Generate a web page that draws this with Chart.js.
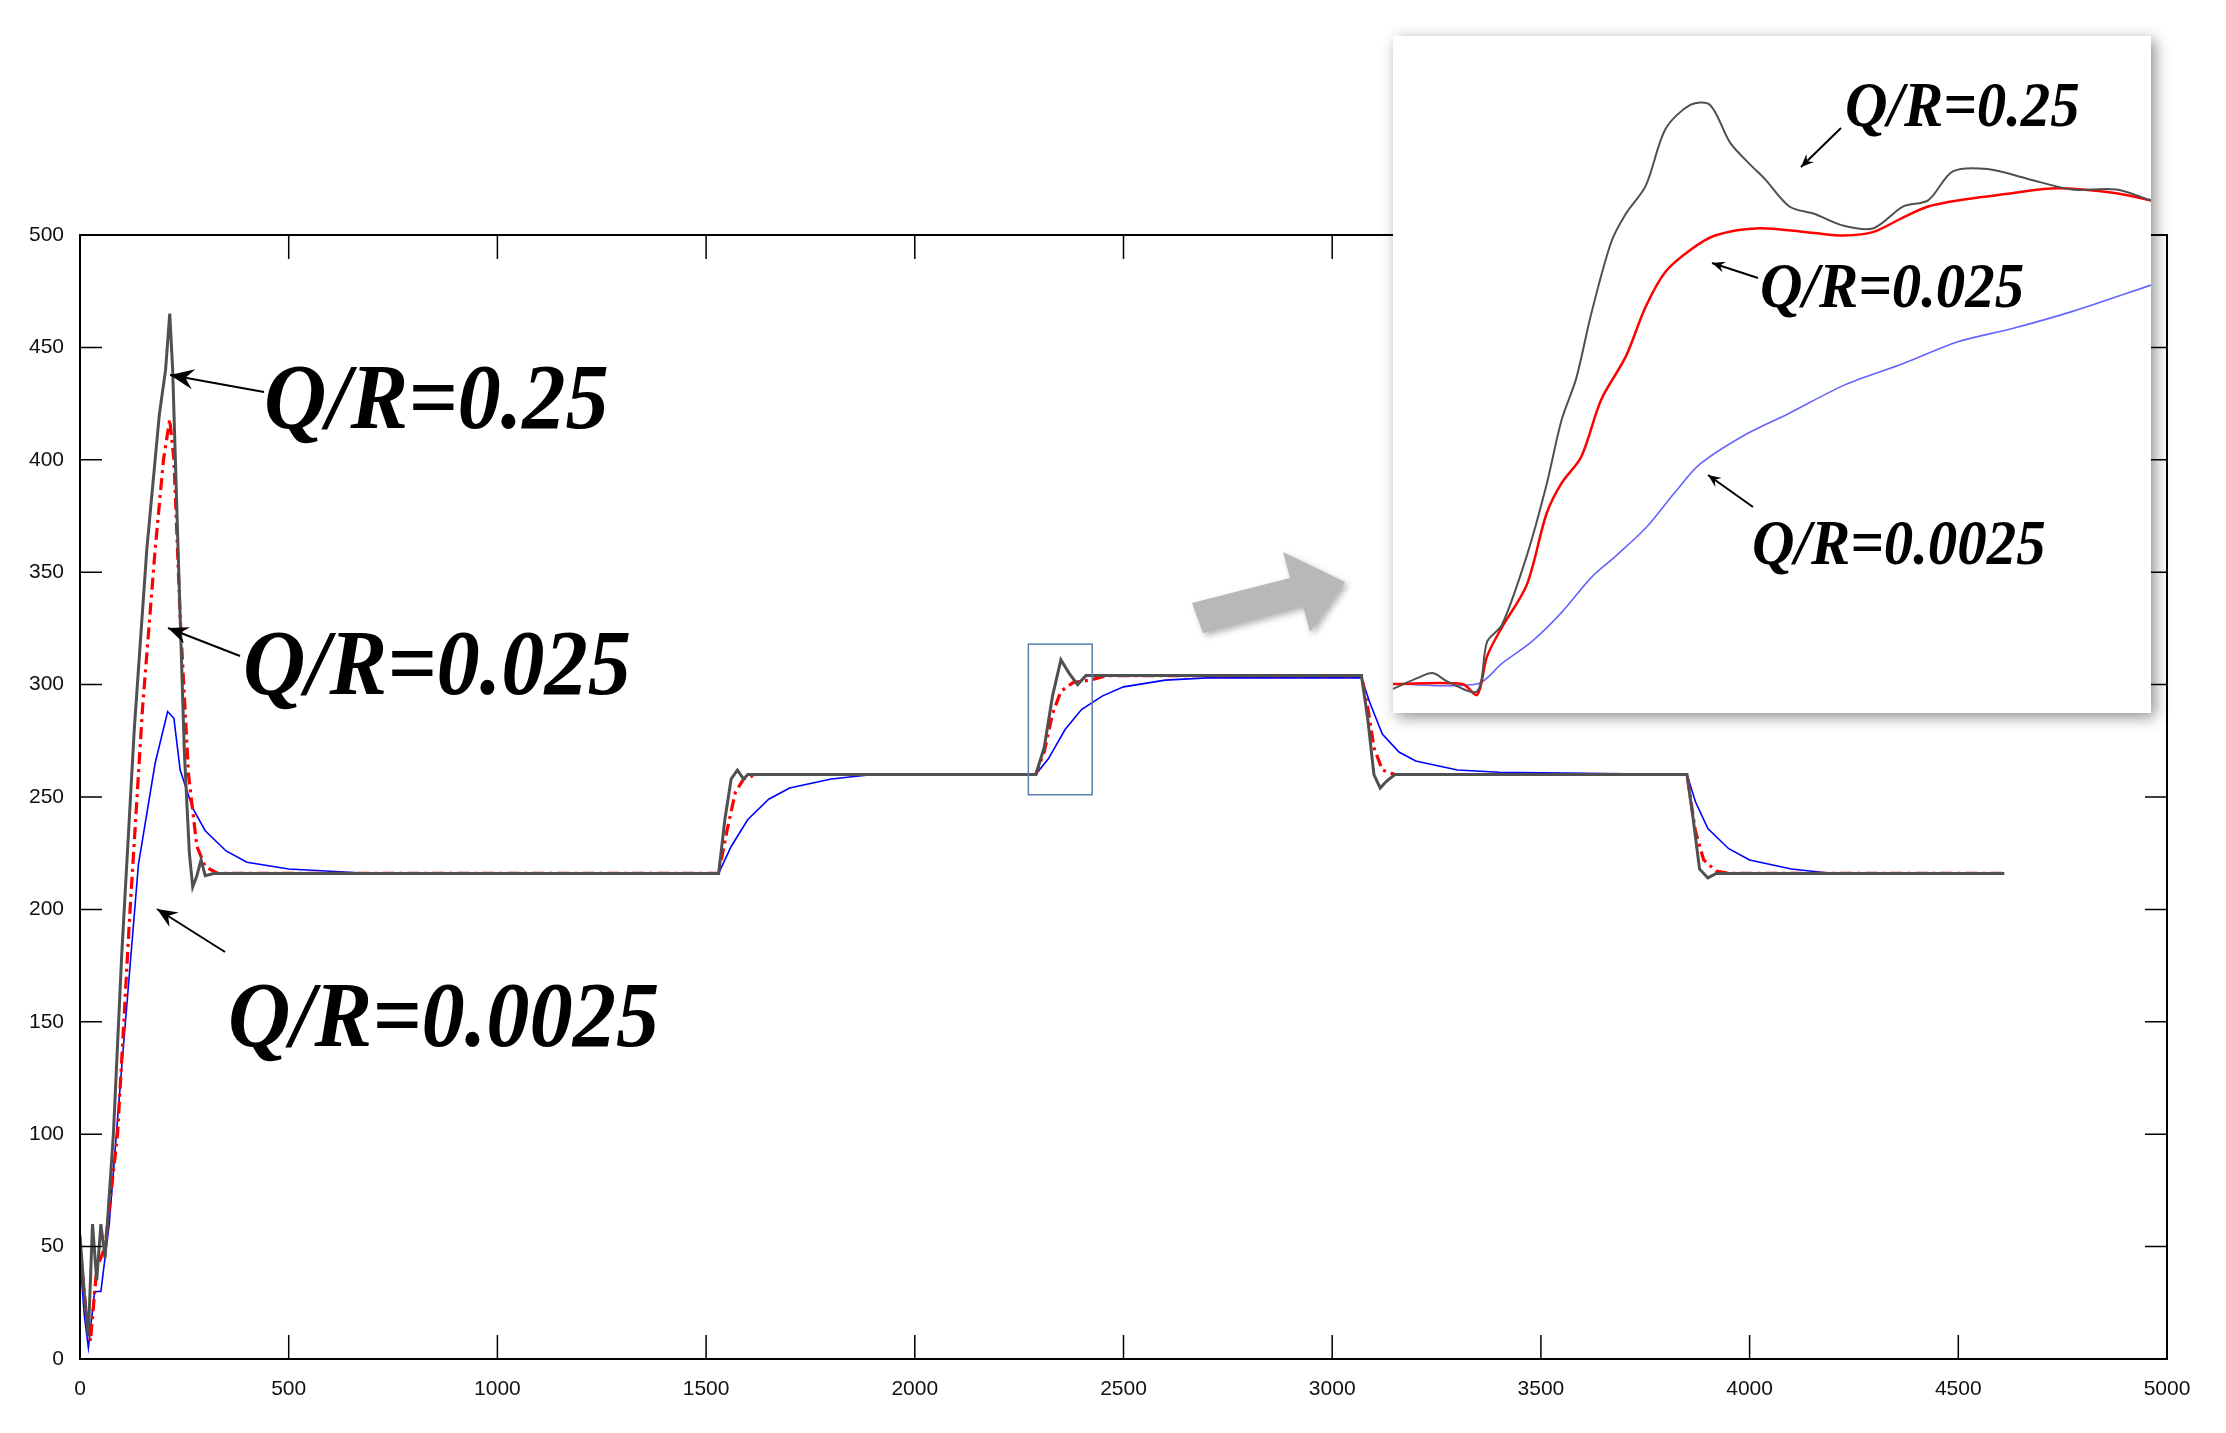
<!DOCTYPE html>
<html><head><meta charset="utf-8">
<script src="https://cdn.jsdelivr.net/npm/chart.js@4/dist/chart.umd.min.js"></script>
<style>
html,body{margin:0;padding:0;background:#fff;}
#wrap{position:relative;width:2226px;height:1433px;}
#main{position:absolute;left:0;top:0;}
#insetBox{position:absolute;left:1393px;top:36px;width:758px;height:677px;background:#fff;box-shadow:4px 4px 14px rgba(0,0,0,0.45);}
#overlay{position:absolute;left:0;top:0;pointer-events:none;}
</style></head><body>
<div id="wrap">
<canvas id="main" width="2226" height="1433"></canvas>
<div id="insetBox"><canvas id="inset" width="758" height="677"></canvas></div>
<canvas id="overlay" width="2226" height="1433"></canvas>
</div>
<script>
const xTicks=[0,500,1000,1500,2000,2500,3000,3500,4000,4500,5000];
const yTicks=[0,50,100,150,200,250,300,350,400,450,500];
const seriesNames=["Q/R=0.25","Q/R=0.025","Q/R=0.0025"];
const blackX=[0,10,20,30,40,50,60,80,100,130,160,190,205,215,222,235,250,262,270,280,290,300,320,1530,1545,1560,1575,1590,1600,2290,2310,2330,2350,2370,2390,2410,2450,3070,3085,3100,3115,3130,3150,3850,3865,3880,3900,3920,4610];
const blackY=[55,30,10,60,35,60,45,100,180,280,360,420,440,465,440,360,270,225,210,215,222,215,216,216,240,258,262,258,260,260,272,295,311,305,300,304,304,304,285,260,254,257,260,260,240,218,214,216,216];
const redX=[0,15,25,40,60,90,120,150,180,200,215,225,240,260,280,300,330,1530,1550,1570,1590,1620,2290,2310,2330,2350,2380,2420,2460,3070,3085,3100,3120,3150,3850,3870,3890,3920,3950,4610];
const redY=[50,20,8,40,50,100,200,290,360,400,418,400,330,260,228,219,216,216,235,252,258,260,260,270,287,297,301,302,304,304,290,272,262,260,260,235,222,217,216,216];
const blueX=[0,10,20,35,50,70,100,140,180,210,225,240,270,300,350,400,500,700,1530,1560,1600,1650,1700,1800,1900,2290,2320,2360,2400,2450,2500,2600,2700,3070,3090,3120,3160,3200,3300,3400,3850,3870,3900,3950,4000,4100,4200,4610];
const blueY=[45,20,5,30,30,60,130,220,265,288,285,262,245,235,226,221,218,216,216,228,240,249,254,258,260,260,267,280,289,295,299,302,303,303,292,278,270,266,262,261,260,248,236,227,222,218,216,216];
const inBlackX=[2272,2277,2280,2283,2289,2291,2294,2299,2303,2306,2309,2312,2316,2319,2323,2327,2332,2336,2340,2344,2347,2352,2357,2363,2369,2375,2380,2385,2392,2400,2409,2418,2425];
const inBlackY=[259.0,259.9,260.3,259.6,258.8,262.9,264.3,270.0,275.9,281.2,284.7,290.0,295.9,298.3,300.6,305.3,307.3,307.3,304.2,302.4,301.2,298.9,298.3,297.3,297.1,298.9,299.4,301.8,302.0,301.2,300.3,300.3,299.4];
const inRedX=[2272,2286,2289,2291,2294,2299,2303,2306,2310,2314,2319,2323,2327,2332,2337,2346,2357,2363,2369,2375,2380,2386,2397,2406,2418,2425];
const inRedY=[259.4,259.4,258.5,261.7,264.1,267.6,273.5,276.0,278.2,282.9,286.5,290.6,293.5,295.3,296.5,297.1,296.7,296.5,296.8,298.0,298.9,299.4,300.0,300.4,300.0,299.4];
const inBlueX=[2272,2289,2294,2300,2306,2312,2317,2323,2329,2334,2343,2352,2363,2375,2386,2397,2409,2425];
const inBlueY=[259.4,259.4,261.1,262.9,265.3,268.2,270.0,272.3,275.3,277.6,280.0,281.8,284.1,285.9,287.7,288.8,290.2,292.4];

const pts=(xs,ys)=>xs.map((x,i)=>({x:x,y:ys[i]}));
const axisFont={family:'"Liberation Sans", Arial, sans-serif',size:21};

const framePlugin={id:'frame',afterDraw(c){
  const ctx=c.ctx,a=c.chartArea,xs=c.scales.x,ys=c.scales.y;
  ctx.save();ctx.strokeStyle='#000';ctx.lineWidth=2;
  ctx.strokeRect(a.left,a.top,a.right-a.left,a.bottom-a.top);
  ctx.lineWidth=1.5;ctx.beginPath();
  xTicks.forEach(v=>{const p=xs.getPixelForValue(v);ctx.moveTo(p,a.bottom);ctx.lineTo(p,a.bottom-24);ctx.moveTo(p,a.top);ctx.lineTo(p,a.top+24);});
  yTicks.forEach(v=>{const p=ys.getPixelForValue(v);ctx.moveTo(a.left,p);ctx.lineTo(a.left+22,p);ctx.moveTo(a.right,p);ctx.lineTo(a.right-22,p);});
  ctx.stroke();
  ctx.strokeStyle='#5a7fb0';ctx.lineWidth=1.5;
  const x1=xs.getPixelForValue(2272),x2=xs.getPixelForValue(2425),y1=ys.getPixelForValue(318),y2=ys.getPixelForValue(251);
  ctx.strokeRect(x1,y1,x2-x1,y2-y1);
  ctx.restore();
}};

new Chart(document.getElementById('main'),{
  type:'line',
  data:{datasets:[
    {label:seriesNames[0],data:pts(blackX,blackY),borderColor:'#505050',borderWidth:3,pointRadius:0,tension:0},
    {label:seriesNames[1],data:pts(redX,redY),borderColor:'#ff0000',borderWidth:3.2,borderDash:[12,5,3,5],pointRadius:0,tension:0},
    {label:seriesNames[2],data:pts(blueX,blueY),borderColor:'#0000ff',borderWidth:1.6,pointRadius:0,tension:0}
  ]},
  options:{responsive:false,animation:false,devicePixelRatio:1,
    layout:{padding:{top:235,right:59,left:0,bottom:0}},
    plugins:{legend:{display:false},tooltip:{enabled:false}},
    scales:{
      x:{type:'linear',min:0,max:5000,afterBuildTicks:s=>{s.ticks=xTicks.map(v=>({value:v}));},
        grid:{display:false},border:{display:false},
        ticks:{font:axisFont,color:'#111',padding:10,maxRotation:0,callback:v=>String(v)},
        afterFit:s=>{s.height=74;}},
      y:{min:0,max:500,afterBuildTicks:s=>{s.ticks=yTicks.map(v=>({value:v}));},
        grid:{display:false},border:{display:false},
        ticks:{font:axisFont,color:'#111',padding:8,callback:v=>String(v)},
        afterFit:s=>{s.width=80;}}
    }},
  plugins:[framePlugin]
});

new Chart(document.getElementById('inset'),{
  type:'line',
  data:{datasets:[
    {data:pts(inBlackX,inBlackY),borderColor:'#505050',borderWidth:2,pointRadius:0,tension:0.3},
    {data:pts(inRedX,inRedY),borderColor:'#ff0000',borderWidth:2.5,pointRadius:0,tension:0.3},
    {data:pts(inBlueX,inBlueY),borderColor:'#6464ff',borderWidth:1.6,pointRadius:0,tension:0.3}
  ]},
  options:{responsive:false,animation:false,devicePixelRatio:1,
    layout:{padding:0},
    plugins:{legend:{display:false},tooltip:{enabled:false}},
    scales:{x:{type:'linear',min:2272,max:2425,display:false},y:{min:257,max:313,display:false}}}
});

const o=document.getElementById('overlay').getContext('2d');
function label(t,x,y,s){o.save();o.font='italic bold '+s+'px "Liberation Serif", "DejaVu Serif", serif';o.fillStyle='#000';o.translate(x,y);o.scale(0.92,1);o.fillText(t,0,0);o.restore();}
function arrow(x1,y1,x2,y2,h){o.save();o.strokeStyle='#000';o.fillStyle='#000';o.lineWidth=2;o.beginPath();o.moveTo(x1,y1);o.lineTo(x2,y2);o.stroke();
  const a=Math.atan2(y2-y1,x2-x1);o.beginPath();o.moveTo(x2,y2);o.lineTo(x2-h*Math.cos(a-0.4),y2-h*Math.sin(a-0.4));o.lineTo(x2-h*0.6*Math.cos(a),y2-h*0.6*Math.sin(a));o.lineTo(x2-h*Math.cos(a+0.4),y2-h*Math.sin(a+0.4));o.closePath();o.fill();o.restore();}
label(seriesNames[0],264,428,94);
label(seriesNames[1],243,694,94);
label(seriesNames[2],228,1046,94);
arrow(264,392,170,375,26);
arrow(240,656,168,628,22);
arrow(225,952,157,909,22);
label(seriesNames[0],1845,126,64);
label(seriesNames[1],1760,307,64);
label(seriesNames[2],1752,564,64);
arrow(1841,128,1801,167,14);
arrow(1758,278,1712,263,14);
arrow(1753,507,1708,475,14);
o.save();o.fillStyle='#b8b8b8';o.shadowColor='rgba(0,0,0,0.3)';o.shadowBlur=6;o.shadowOffsetX=3;o.shadowOffsetY=3;
o.beginPath();o.moveTo(1192,603);o.lineTo(1290,578);o.lineTo(1283,552);o.lineTo(1345,582);o.lineTo(1310,632);o.lineTo(1303,606);o.lineTo(1203,633);o.closePath();o.fill();o.restore();
</script>
</body></html>
